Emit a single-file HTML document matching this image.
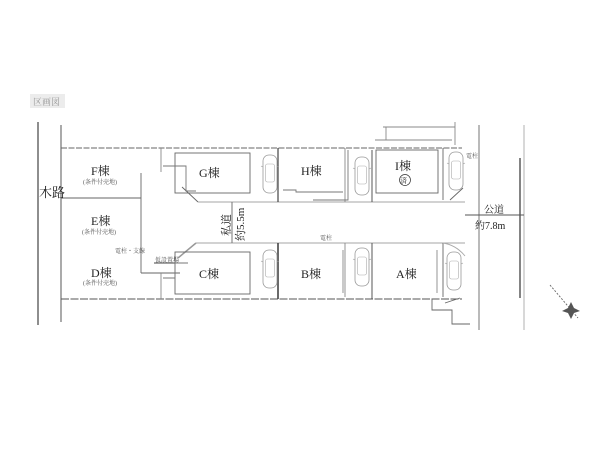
<!DOCTYPE html>
<html><head><meta charset="utf-8"><style>
html,body{margin:0;padding:0;background:#fff;}
svg{display:block;}
text{font-family:"Liberation Serif","Noto Serif CJK SC","Noto Sans CJK JP",serif;fill:#222;}
</style></head><body>
<svg width="600" height="450" viewBox="0 0 600 450" xmlns="http://www.w3.org/2000/svg">
<defs>
<g id="car">
<rect x="0" y="0" width="14" height="38" rx="6" fill="none" stroke="#999" stroke-width="0.8"/>
<rect x="2.5" y="9" width="9" height="18" rx="2" fill="none" stroke="#aaa" stroke-width="0.6"/>
<line x1="0" y1="12" x2="-2" y2="11" stroke="#999" stroke-width="0.6"/>
<line x1="14" y1="12" x2="16" y2="11" stroke="#999" stroke-width="0.6"/>
</g>
</defs>
<rect x="30" y="94" width="35" height="14" fill="#ececec"/>
<text x="33" y="105" font-size="9" style="fill:#999">区画図</text>

<g stroke="#444" fill="none" stroke-width="0.9">
<line x1="38" y1="122" x2="38" y2="325" stroke-width="1.2"/>
<line x1="61" y1="125" x2="61" y2="322"/>
<line x1="61" y1="148" x2="462" y2="148" stroke="#666" stroke-dasharray="6 1.5" stroke-width="0.9"/>
<line x1="61" y1="299" x2="462" y2="299" stroke="#555" stroke-dasharray="8 1.5" stroke-width="1.1"/>
<line x1="61" y1="198" x2="141" y2="198" stroke="#666"/>
<line x1="141" y1="173" x2="141" y2="273" stroke="#666"/>
<line x1="141" y1="273" x2="180" y2="273" stroke="#666"/>
<line x1="161" y1="148" x2="161" y2="172" stroke="#888"/>
<line x1="161" y1="273" x2="161" y2="299" stroke="#888"/>
<rect x="175" y="153" width="75" height="40" stroke="#666"/>
<polyline points="163,166 186,166 186,191 196,191" stroke="#777"/>
<line x1="182" y1="187" x2="198" y2="202" stroke="#666"/>
<line x1="198" y1="202" x2="465" y2="202" stroke="#888" stroke-width="0.7"/>
<line x1="196" y1="243" x2="465" y2="243" stroke="#888" stroke-width="0.7"/>
<line x1="232" y1="202" x2="232" y2="243" stroke="#666"/>
<line x1="178" y1="258" x2="196" y2="243" stroke="#999" stroke-width="1.5"/>
<line x1="154" y1="263" x2="180" y2="263" stroke="#444"/>
<rect x="175" y="252" width="75" height="42" stroke="#666"/>
<polyline points="163,278 175,278 175,263 188,263" stroke="#777"/>
<line x1="278" y1="148" x2="278" y2="202" stroke-width="1.2"/>
<line x1="278" y1="243" x2="278" y2="299" stroke-width="1.6"/>
<line x1="345" y1="148" x2="345" y2="202" stroke="#888"/>
<line x1="345" y1="243" x2="345" y2="297" stroke="#888"/>
<line x1="372" y1="150" x2="372" y2="202"/>
<line x1="372" y1="243" x2="372" y2="299"/>
<polyline points="283,190 296,190 296,192 343,192" stroke="#777"/>
<polyline points="313,200 348,200 348,150" stroke="#777"/>
<rect x="376" y="150" width="62" height="43" stroke="#666"/>
<line x1="443" y1="148" x2="443" y2="200" stroke="#666"/>
<line x1="383" y1="127" x2="455" y2="127" stroke="#888"/>
<line x1="386" y1="127" x2="386" y2="140" stroke="#888"/>
<line x1="455" y1="122" x2="455" y2="145" stroke="#888"/>
<polyline points="375,140 452,140" stroke="#888"/>
<line x1="450" y1="200" x2="463" y2="188" stroke="#666"/>
<line x1="343" y1="250" x2="343" y2="293" stroke="#888"/>
<line x1="437" y1="250" x2="437" y2="293" stroke="#888"/>
<line x1="443" y1="243" x2="443" y2="297" stroke="#666"/>
<path d="M443 243 Q456 245 465 256" stroke="#aaa"/>
<polyline points="432,299 432,310 452,310 452,324 470,324" stroke="#666"/>
<line x1="445" y1="303" x2="460" y2="298" stroke="#666"/>
<line x1="479" y1="125" x2="479" y2="330" stroke="#666"/>
<line x1="520" y1="158" x2="520" y2="298" stroke="#333" stroke-width="1.2"/>
<line x1="524" y1="125" x2="524" y2="330" stroke="#aaa"/>
<line x1="465" y1="215" x2="524" y2="215" stroke="#555"/>
<line x1="550" y1="285" x2="578" y2="318" stroke="#666" stroke-dasharray="2 1.5"/>
</g>
<polygon points="571,302 574,308 580,311 574,313 571,319 568,313 562,311 568,308" fill="#555"/>

<use href="#car" x="263" y="155"/>
<use href="#car" x="263" y="250"/>
<use href="#car" x="355" y="157"/>
<use href="#car" x="355" y="248"/>
<use href="#car" x="449" y="152"/>
<use href="#car" x="447" y="252"/>

<text x="39" y="197" font-size="13">木路</text>
<text x="91" y="175" font-size="12">F棟</text>
<text x="83" y="184" font-size="6" style="fill:#555">(条件付売地)</text>
<text x="91" y="225" font-size="12">E棟</text>
<text x="82" y="234" font-size="6" style="fill:#555">(条件付売地)</text>
<text x="91" y="277" font-size="12">D棟</text>
<text x="83" y="285" font-size="6" style="fill:#555">(条件付売地)</text>
<text x="115" y="253" font-size="6" style="fill:#555">電柱・支線</text>
<text x="155" y="262" font-size="6" style="fill:#555">仮設置場</text>
<text x="199" y="177" font-size="12">G棟</text>
<text x="199" y="278" font-size="12">C棟</text>
<text x="301" y="175" font-size="12">H棟</text>
<text x="301" y="278" font-size="12">B棟</text>
<text x="395" y="170" font-size="12">I棟</text>
<circle cx="405" cy="180" r="5.5" fill="none" stroke="#333" stroke-width="0.7"/>
<text x="400" y="183" font-size="7">済</text>
<text x="396" y="278" font-size="12">A棟</text>
<text x="466" y="158" font-size="6" style="fill:#555">電柱</text>
<text x="320" y="240" font-size="6" style="fill:#555">電柱</text>
<text x="484" y="213" font-size="10">公道</text>
<text x="475" y="229" font-size="10">約7.8m</text>
<text transform="translate(230,236) rotate(-90)" font-size="11">私道</text>
<text transform="translate(244,241) rotate(-90)" font-size="11">約5.5m</text>
</svg>
</body></html>
